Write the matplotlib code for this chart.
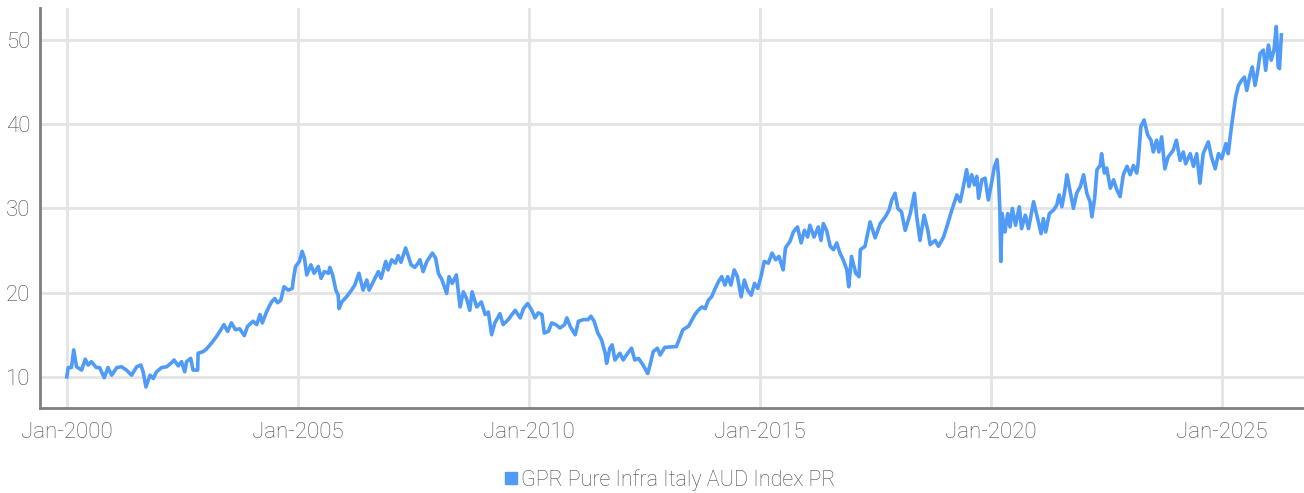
import matplotlib
matplotlib.use("Agg")
import matplotlib.pyplot as plt
import matplotlib.dates as mdates
from matplotlib.lines import Line2D
import pandas as pd

# series label and colour
SERIES_NAME = "GPR Pure Infra Italy AUD Index PR"
LINE_COLOR = "#4f9bf7"

# index level (decimal year, value)
years = [
    2000.00, 2000.03, 2000.10, 2000.15, 2000.21, 2000.32, 2000.40, 2000.46, 2000.53, 2000.64,
    2000.71, 2000.81, 2000.89, 2000.97, 2001.08, 2001.18, 2001.29, 2001.40, 2001.51, 2001.60,
    2001.65, 2001.71, 2001.80, 2001.87, 2001.94, 2002.05, 2002.16, 2002.27, 2002.32, 2002.41,
    2002.48, 2002.55, 2002.59, 2002.68, 2002.73, 2002.83, 2002.84, 2002.95, 2003.02, 2003.13,
    2003.24, 2003.31, 2003.40, 2003.48, 2003.56, 2003.65, 2003.74, 2003.84, 2003.91, 2004.03,
    2004.11, 2004.18, 2004.23, 2004.32, 2004.43, 2004.50, 2004.56, 2004.63, 2004.70, 2004.79,
    2004.88, 2004.90, 2004.95, 2005.03, 2005.09, 2005.14, 2005.19, 2005.28, 2005.35, 2005.44,
    2005.50, 2005.57, 2005.66, 2005.69, 2005.75, 2005.82, 2005.87, 2005.89, 2005.95, 2006.05,
    2006.16, 2006.23, 2006.32, 2006.41, 2006.49, 2006.54, 2006.63, 2006.74, 2006.80, 2006.90,
    2006.95, 2007.03, 2007.11, 2007.17, 2007.23, 2007.33, 2007.39, 2007.45, 2007.53, 2007.60,
    2007.64, 2007.71, 2007.79, 2007.91, 2007.98, 2008.04, 2008.12, 2008.22, 2008.27, 2008.34,
    2008.43, 2008.51, 2008.58, 2008.65, 2008.72, 2008.77, 2008.87, 2008.97, 2009.05, 2009.12,
    2009.19, 2009.26, 2009.37, 2009.44, 2009.55, 2009.70, 2009.81, 2009.88, 2009.97, 2010.06,
    2010.13, 2010.20, 2010.28, 2010.33, 2010.42, 2010.49, 2010.58, 2010.67, 2010.77, 2010.82,
    2010.89, 2011.00, 2011.07, 2011.18, 2011.28, 2011.34, 2011.41, 2011.49, 2011.57, 2011.65,
    2011.68, 2011.75, 2011.80, 2011.86, 2011.97, 2012.04, 2012.11, 2012.22, 2012.29, 2012.37,
    2012.47, 2012.57, 2012.62, 2012.69, 2012.78, 2012.84, 2012.94, 2013.19, 2013.33, 2013.45,
    2013.59, 2013.66, 2013.74, 2013.81, 2013.88, 2013.95, 2014.03, 2014.10, 2014.17, 2014.24,
    2014.30, 2014.37, 2014.44, 2014.51, 2014.59, 2014.66, 2014.73, 2014.81, 2014.88, 2014.95,
    2015.02, 2015.09, 2015.18, 2015.26, 2015.34, 2015.41, 2015.50, 2015.55, 2015.65, 2015.72,
    2015.81, 2015.89, 2015.96, 2016.03, 2016.08, 2016.17, 2016.26, 2016.32, 2016.37, 2016.44,
    2016.52, 2016.59, 2016.66, 2016.73, 2016.80, 2016.88, 2016.92, 2016.98, 2017.07, 2017.14,
    2017.17, 2017.27, 2017.38, 2017.49, 2017.60, 2017.71, 2017.79, 2017.85, 2017.92, 2017.98,
    2018.06, 2018.14, 2018.25, 2018.34, 2018.39, 2018.46, 2018.55, 2018.63, 2018.68, 2018.79,
    2018.86, 2018.97, 2019.04, 2019.15, 2019.26, 2019.33, 2019.37, 2019.47, 2019.52, 2019.58,
    2019.64, 2019.69, 2019.73, 2019.80, 2019.87, 2019.94, 2020.01, 2020.07, 2020.13, 2020.16,
    2020.19, 2020.21, 2020.24, 2020.30, 2020.36, 2020.41, 2020.46, 2020.53, 2020.61, 2020.66,
    2020.74, 2020.81, 2020.92, 2020.99, 2021.08, 2021.13, 2021.18, 2021.26, 2021.35, 2021.42,
    2021.47, 2021.53, 2021.59, 2021.64, 2021.71, 2021.78, 2021.85, 2021.93, 2022.00, 2022.07,
    2022.14, 2022.18, 2022.24, 2022.29, 2022.36, 2022.39, 2022.45, 2022.50, 2022.58, 2022.65,
    2022.72, 2022.79, 2022.86, 2022.94, 2023.01, 2023.08, 2023.15, 2023.18, 2023.24, 2023.31,
    2023.39, 2023.46, 2023.51, 2023.58, 2023.63, 2023.69, 2023.76, 2023.83, 2023.94, 2024.01,
    2024.09, 2024.16, 2024.21, 2024.31, 2024.38, 2024.45, 2024.52, 2024.59, 2024.70, 2024.77,
    2024.85, 2024.92, 2024.99, 2025.08, 2025.13, 2025.19, 2025.24, 2025.29, 2025.35, 2025.42,
    2025.48, 2025.53, 2025.60, 2025.65, 2025.71, 2025.77, 2025.82, 2025.89, 2025.94, 2026.00,
    2026.06, 2026.12, 2026.17, 2026.21, 2026.24, 2026.28,
]
values = [
    10.0, 11.1, 11.1, 13.2, 11.2, 10.8, 12.1, 11.4, 11.8, 11.1,
    11.1, 9.9, 11.1, 10.2, 11.1, 11.2, 10.8, 10.2, 11.2, 11.4,
    10.6, 8.8, 10.2, 9.8, 10.6, 11.1, 11.2, 11.7, 12.0, 11.3,
    11.8, 10.6, 11.8, 12.2, 10.8, 10.8, 12.8, 13.0, 13.3, 14.0,
    14.8, 15.4, 16.2, 15.4, 16.4, 15.6, 15.7, 14.9, 16.0, 16.6,
    16.2, 17.4, 16.4, 17.7, 18.9, 19.3, 18.8, 19.1, 20.7, 20.3,
    20.5, 21.5, 23.1, 23.7, 24.9, 24.1, 22.1, 23.3, 22.3, 23.1,
    21.7, 22.5, 22.3, 23.0, 22.1, 20.3, 19.7, 18.1, 18.9, 19.5,
    20.3, 20.9, 22.3, 20.3, 21.5, 20.3, 21.3, 22.5, 21.7, 23.7,
    22.7, 23.9, 23.5, 24.4, 23.6, 25.3, 24.3, 23.3, 23.0, 23.5,
    23.9, 22.5, 23.7, 24.7, 24.1, 22.3, 21.5, 19.9, 21.9, 21.1,
    22.1, 18.3, 20.1, 19.3, 17.9, 20.1, 18.3, 18.9, 17.4, 17.7,
    15.0, 16.4, 17.5, 16.2, 16.8, 17.9, 17.0, 18.1, 18.7, 17.9,
    17.0, 17.6, 17.4, 15.2, 15.4, 16.4, 16.2, 15.8, 16.2, 17.0,
    16.0, 15.0, 16.6, 16.8, 16.8, 17.2, 16.6, 15.2, 14.4, 12.8,
    11.6, 13.4, 13.8, 12.0, 12.8, 12.0, 12.6, 13.4, 12.0, 12.2,
    11.4, 10.4, 11.4, 13.0, 13.4, 12.6, 13.5, 13.6, 15.6, 16.0,
    17.4, 17.9, 18.3, 18.1, 19.1, 19.5, 20.5, 21.3, 21.9, 20.9,
    21.9, 20.9, 22.7, 21.9, 19.5, 21.5, 20.3, 19.7, 21.1, 20.5,
    21.9, 23.7, 23.5, 24.7, 23.9, 24.3, 22.7, 25.3, 26.1, 27.2,
    27.8, 25.9, 27.4, 26.6, 28.0, 26.6, 27.8, 26.2, 28.2, 27.4,
    25.5, 25.1, 25.9, 24.7, 23.9, 22.7, 20.7, 24.3, 22.3, 21.9,
    25.1, 25.5, 28.4, 26.5, 28.2, 29.0, 29.8, 31.0, 31.8, 30.0,
    29.6, 27.4, 29.4, 31.8, 29.0, 26.2, 29.2, 27.4, 25.7, 26.2,
    25.5, 26.6, 27.8, 29.8, 31.6, 30.8, 31.8, 34.6, 32.6, 34.0,
    32.8, 33.8, 31.2, 33.4, 33.6, 31.0, 33.0, 34.9, 35.8, 33.8,
    29.8, 23.7, 29.4, 27.2, 29.4, 27.8, 30.0, 28.0, 30.2, 27.6,
    29.2, 27.6, 30.8, 29.2, 27.0, 28.8, 27.2, 29.4, 29.8, 30.4,
    31.6, 30.2, 32.0, 34.0, 32.0, 30.0, 31.8, 32.6, 34.0, 31.8,
    30.8, 29.0, 31.2, 34.6, 35.1, 36.5, 34.2, 34.8, 32.4, 33.4,
    32.2, 31.4, 34.0, 35.0, 34.0, 35.1, 34.2, 35.3, 39.7, 40.5,
    38.7, 38.1, 36.7, 38.1, 36.7, 38.5, 34.7, 36.1, 36.9, 38.1,
    35.7, 36.7, 35.3, 36.5, 35.0, 36.5, 33.0, 36.5, 37.9, 36.1,
    34.7, 36.5, 35.9, 37.7, 36.5, 39.3, 41.3, 43.2, 44.6, 45.2,
    45.6, 44.0, 45.8, 46.8, 44.6, 46.4, 48.4, 48.8, 46.4, 49.4,
    47.6, 48.8, 51.6, 46.8, 46.6, 50.6,
]
y_ticks = [10, 20, 30, 40, 50]
x_tick_years = [2000, 2005, 2010, 2015, 2020, 2025]


def year_to_date(y):
    yr = int(y)
    return pd.Timestamp(yr, 1, 1) + pd.Timedelta(days=(y - yr) * 365.25)


dates = [year_to_date(y) for y in years]

plt.rcParams['font.family'] = ['Roboto', 'DejaVu Sans']
plt.rcParams['font.weight'] = 'light'
TEXT_COLOR = '#4a4a4a'

fig = plt.figure(figsize=(13.04, 4.93), dpi=100)
ax = fig.add_axes([0.0307, 0.1724, 0.9693, 0.8114])

ax.plot(dates, values, color=LINE_COLOR, linewidth=2.6, solid_joinstyle='round')

ax.set_ylim(6.3, 53.8)
ax.set_xlim(year_to_date(1999.42), year_to_date(2026.77))
ax.set_yticks(y_ticks)
ax.set_xticks([pd.Timestamp(y, 1, 1) for y in x_tick_years])
ax.xaxis.set_major_formatter(mdates.DateFormatter('%b-%Y'))

ax.grid(True, color='#e4e4e4', linewidth=2)
ax.set_axisbelow(True)
for side in ['top', 'right']:
    ax.spines[side].set_visible(False)
for side in ['left', 'bottom']:
    ax.spines[side].set_color('#7f7f7f')
    ax.spines[side].set_linewidth(2)
ax.tick_params(axis='both', length=0, labelsize=16, labelcolor=TEXT_COLOR)
ax.tick_params(axis='x', pad=10)
ax.tick_params(axis='y', pad=7)

handle = Line2D([], [], color=LINE_COLOR, marker='s', linestyle='none', markersize=8)
fig.legend([handle], [SERIES_NAME], loc='center', bbox_to_anchor=(0.513, 0.027),
           frameon=False, fontsize=15.5, handletextpad=0.1, labelcolor=TEXT_COLOR,
           handlelength=0.8, borderpad=0)

fig.savefig('out.png', dpi=100)
